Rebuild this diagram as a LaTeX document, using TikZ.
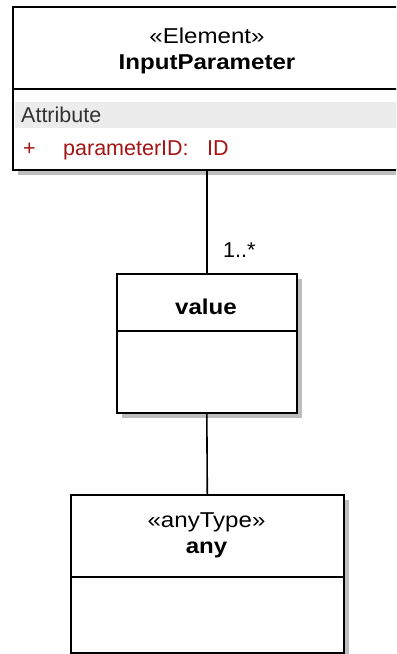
\documentclass[tikz,border=0pt]{standalone}
\usepackage{fontspec}
\setmainfont{Liberation Sans}
\newfontfamily\hdfont{Liberation Sans}[FakeStretch=1.12]
\usetikzlibrary{shadows}
\definecolor{attrred}{RGB}{165,20,20}
\definecolor{bandgray}{RGB}{236,236,236}
\definecolor{shadowgray}{RGB}{190,190,190}
\tikzset{
  umlbox/.style={draw=black, line width=1.6bp, fill=white, anchor=north west,
    inner sep=0pt, drop shadow={shadow xshift=5bp, shadow yshift=-5bp, fill=shadowgray, opacity=1}},
  compline/.style={draw=black, line width=1.6bp},
  conn/.style={draw=black, line width=1.6bp},
  txt/.style={font=\hdfont\fontsize{21.5bp}{24bp}\selectfont, inner sep=0pt},
  btxt/.style={font=\hdfont\fontsize{21.5bp}{24bp}\selectfont\bfseries, inner sep=0pt},
  ctxt/.style={font=\fontsize{21.5bp}{24bp}\selectfont, inner sep=0pt, anchor=base west},
  rtxt/.style={ctxt, text=attrred},
}
\begin{document}
\begin{tikzpicture}[x=1bp,y=-1bp]
\useasboundingbox (0,0) rectangle (396,654);
\clip (0,0) rectangle (396,654);
% InputParameter class
\node[umlbox, minimum width=392bp, minimum height=163bp] (ip) at (12,6) {};
\fill[bandgray] (15,102) rectangle (404,128);
\draw[compline] (12,89) -- (404,89);
\node[txt] (ipst) at (207,36) {«Element»};
\node[btxt] (ipname) at (207,64) {InputParameter};
\node[ctxt, text=black!80] (attrhd) at (21,123) {Attribute};
\node[rtxt] (plus) at (23,155) {+};
\node[rtxt] (pid) at (63,155) {parameterID:};
\node[rtxt] (pidtype) at (207,155) {ID};
% value class
\node[umlbox, minimum width=180bp, minimum height=139bp] (val) at (116,273) {};
\draw[compline] (116,331) -- (296,331);
\node[btxt] (valname) at (206,307) {value};
% any class
\node[umlbox, minimum width=273bp, minimum height=158bp] (any) at (70,494) {};
\draw[compline] (70,577) -- (343,577);
\node[txt] (anyst) at (206.5,522) {«anyType»};
\node[btxt] (anyname) at (206.5,550) {any};
% connectors
\coordinate (c1) at (207,169);
\coordinate (c2) at (207,273);
\draw[conn] (c1) -- (c2);
\draw[conn] (val.south) -- (any.north);
\node[ctxt] (mult) at (223,257) {1..*};
\end{tikzpicture}
\end{document}
